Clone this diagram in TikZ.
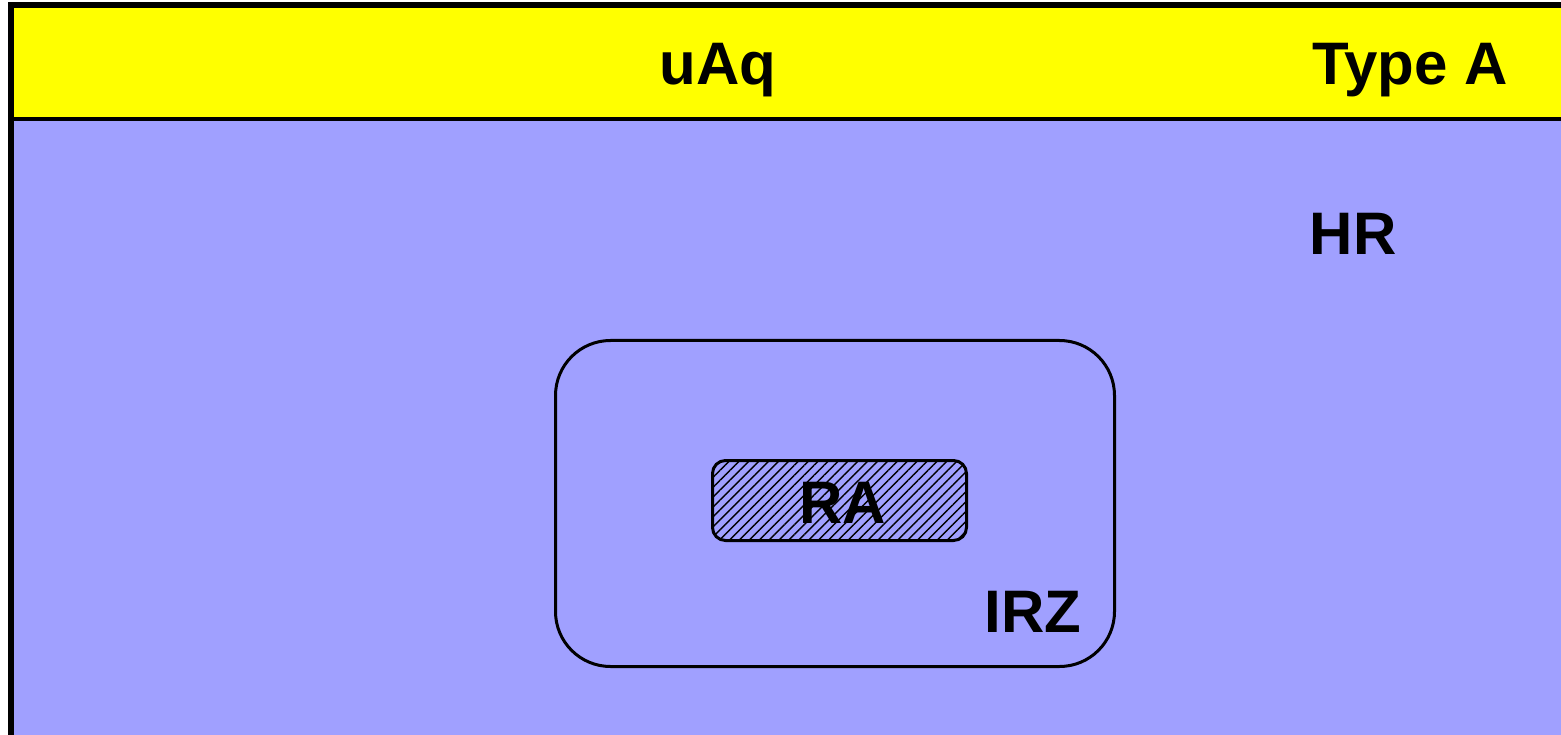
\documentclass[tikz,border=0pt]{standalone}
\usepackage{fontspec}
\setmainfont{Liberation Sans}
\usepackage{tikz}
\usetikzlibrary{calc,shapes,patterns.meta,backgrounds}

\definecolor{hdryellow}{RGB}{255,255,0}
\definecolor{zoneblue}{RGB}{160,160,255}

\begin{document}
\begin{tikzpicture}[x=1pt, y=-1pt, very thick,
  lbl/.style={anchor=base, inner sep=0pt, font=\fontsize{60}{72}\bfseries\selectfont}]

  \useasboundingbox (0,0) rectangle (1561,735);
  \clip (0,0) rectangle (1561,735);

  \fill[zoneblue] (11,5) rectangle (1580,760);
  \fill[hdryellow] (11,5) rectangle (1580,119);
  \draw[line width=4pt] (11,119) -- (1580,119);
  \draw[line width=6pt] (11,5) rectangle (1580,760);

  \node[lbl] (title) at (718,85) {uAq};
  \node[lbl] (type) at (1410,85) {Type A};
  \node[lbl] (hr) at (1353,255) {HR};

  \node[draw, line width=3pt, rounded corners=55pt, minimum width=559pt, minimum height=326pt] (irz) at (835,503.5) {};
  \node[lbl] (irzlabel) at (1033,632) {IRZ};

  \node[draw, line width=3pt, rounded corners=13pt, minimum width=254pt, minimum height=80pt,
        pattern={Lines[angle=45, distance=7pt, line width=1.4pt]}] (ra) at (839.5,500.5) {};
  \node[lbl] (ralabel) at (843,523) {RA};

\end{tikzpicture}
\end{document}
